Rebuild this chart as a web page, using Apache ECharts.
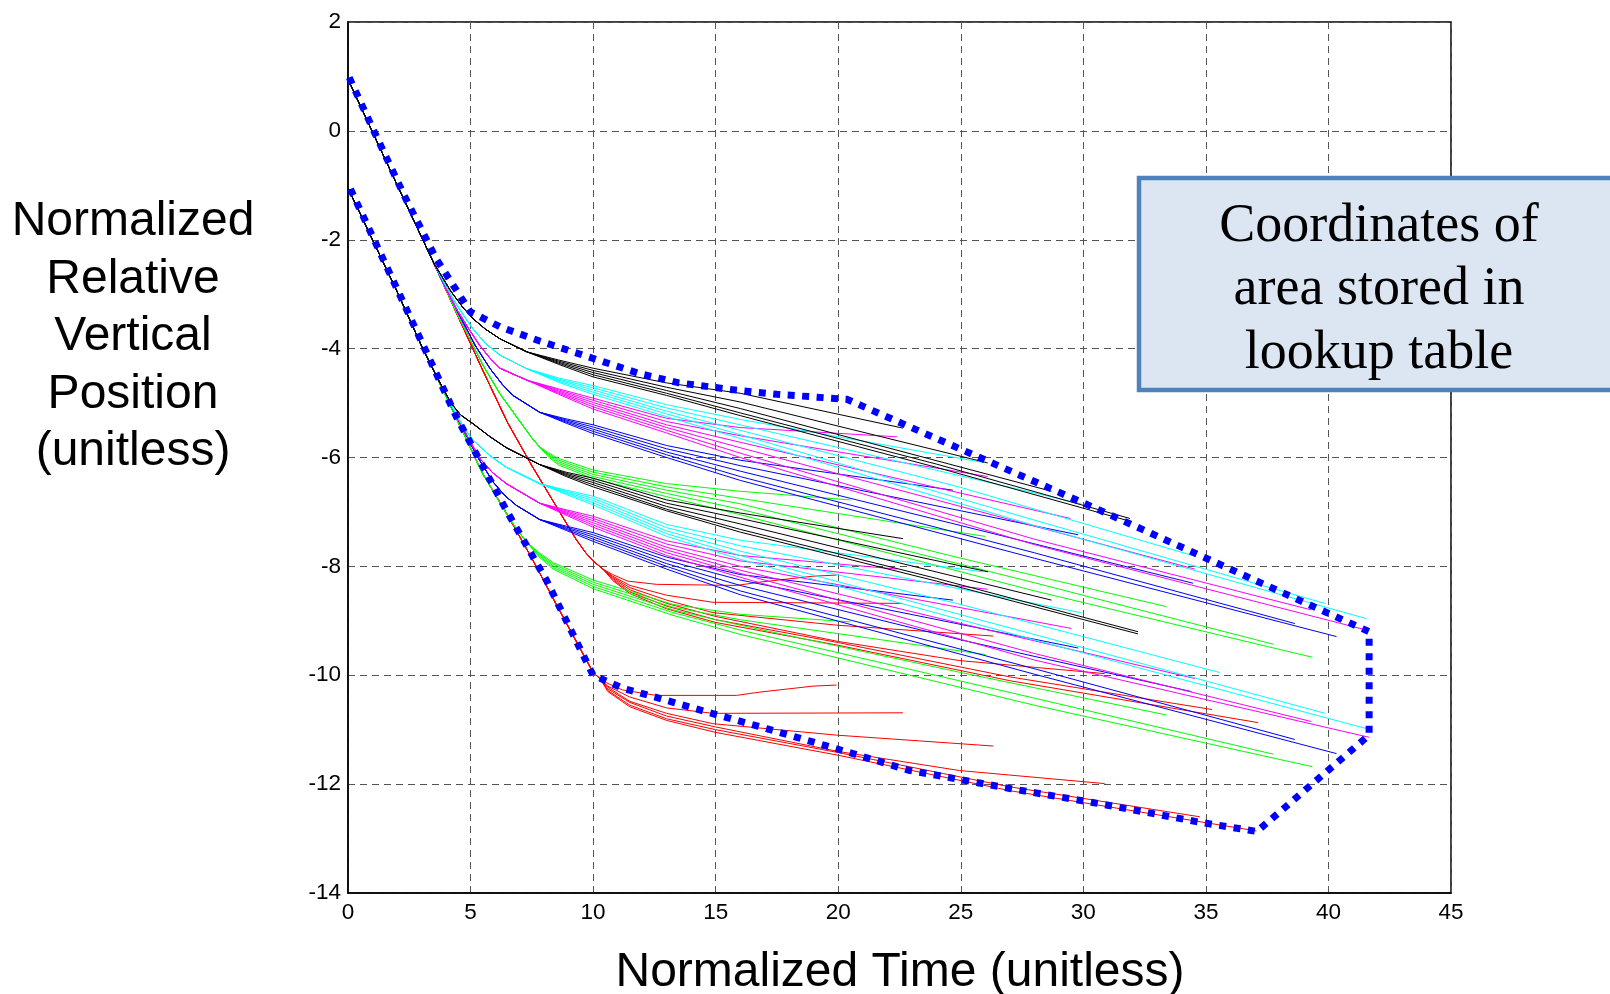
<!DOCTYPE html>
<html><head><meta charset="utf-8">
<script src="https://cdn.jsdelivr.net/npm/echarts@6/dist/echarts.min.js"></script>
<style>html,body{margin:0;padding:0;background:#fff}#c{width:1610px;height:994px}</style>
</head><body><div id="c"></div>
<script>
// ---------- axes ----------
const xAxisRange = [0, 45, 5];      // min, max, interval
const yAxisRange = [-14, 2, 2];
const xTitle = 'Normalized Time (unitless)';
const yTitle = 'Normalized\nRelative\nVertical\nPosition\n(unitless)';
const boxText = 'Coordinates of\narea stored in\nlookup table';

// ---------- shared descent (trunks) ----------
const trunkUpper = [[0,0.95],[1,-0.02],[2,-0.99],[3,-1.95],[3.5,-2.43]];
const trunkLower = [[0,-1.05],[1,-2.0],[2,-2.95],[3,-3.95],[3.6,-4.5]];

// ---------- upper family ----------
const kneeUpperBlack = [[4.2,-2.95],[4.7,-3.25],[5.1,-3.45],[5.6,-3.64],[6.2,-3.82],[7.3,-4.06]];
const tailsUpperBlack = [
  [[8.6,-4.21],[10,-4.36],[13,-4.63],[16,-4.82],[22.64,-5.46]],
  [[8.6,-4.23],[10,-4.4],[13,-4.71],[16,-4.98],[26.1,-6.1]],
  [[8.6,-4.25],[10,-4.44],[13,-4.77],[16,-5.1],[28.7,-6.62]],
  [[8.6,-4.27],[10,-4.48],[13,-4.82],[16,-5.18],[24,-6.12],[31.9,-7.12]],
  [[8.6,-4.29],[10,-4.52],[13,-4.86],[16,-5.23],[24,-6.18],[31.9,-7.17]]
];
const kneeUpperCyan = [[4.3,-3.1],[4.7,-3.38],[5.1,-3.64],[5.6,-3.9],[6.2,-4.12],[7.3,-4.37]];
const tailsUpperCyan = [
  [[8.6,-4.54],[10,-4.68],[13,-5.03],[16,-5.3],[25.9,-6.09]],
  [[8.6,-4.56],[10,-4.72],[13,-5.09],[16,-5.4],[29.9,-6.85]],
  [[8.6,-4.58],[10,-4.76],[13,-5.15],[16,-5.5],[25,-6.55],[34.6,-7.82]],
  [[8.6,-4.6],[10,-4.8],[13,-5.2],[16,-5.58],[28,-7.15],[39.85,-8.68]],
  [[8.6,-4.62],[10,-4.84],[13,-5.25],[16,-5.65],[28,-7.25],[41.55,-8.96]]
];
const kneeUpperMagenta = [[4.4,-3.25],[4.9,-3.62],[5.37,-3.94],[5.8,-4.18],[6.2,-4.36],[7.3,-4.58]];
const tailsUpperMagenta = [
  [[8.6,-4.74],[10,-4.91],[13,-5.28],[16,-5.45],[22.4,-5.62]],
  [[8.6,-4.76],[10,-4.95],[13,-5.34],[16,-5.6],[26.1,-6.35]],
  [[8.6,-4.78],[10,-4.99],[13,-5.4],[16,-5.72],[29.47,-7.12]],
  [[8.6,-4.8],[10,-5.03],[13,-5.45],[16,-5.82],[25,-6.9],[34.55,-8.05]],
  [[8.6,-4.82],[10,-5.07],[13,-5.5],[16,-5.92],[28,-7.5],[39.3,-8.8]],
  [[8.6,-4.84],[10,-5.11],[13,-5.55],[16,-6.0],[28,-7.6],[41.55,-9.17]]
];
const kneeUpperBlue = [[4.5,-3.35],[5.2,-3.95],[5.8,-4.37],[6.3,-4.66],[6.73,-4.86],[7.82,-5.17]];
const tailsUpperBlue = [
  [[8.9,-5.29],[10,-5.4],[13,-5.78],[16,-6.05],[24.68,-6.6]],
  [[8.9,-5.31],[10,-5.44],[13,-5.84],[16,-6.15],[29.79,-7.42]],
  [[8.9,-5.33],[10,-5.48],[13,-5.9],[16,-6.25],[25,-7.25],[34.48,-8.31]],
  [[8.9,-5.35],[10,-5.52],[13,-5.95],[16,-6.35],[28,-7.75],[38.63,-9.05]],
  [[8.9,-5.37],[10,-5.56],[13,-6.0],[16,-6.42],[28,-7.85],[40.33,-9.29]]
];
const kneeUpperGreen = [[4.5,-3.4],[5.5,-4.3],[6.2,-4.83],[7.0,-5.33],[7.5,-5.64],[7.8,-5.8]];
const tailsUpperGreen = [
  [[8.2,-5.92],[8.6,-6.02],[10,-6.23],[13,-6.48],[16,-6.62],[20.5,-6.78]],
  [[8.2,-5.94],[8.6,-6.05],[10,-6.27],[13,-6.54],[16,-6.75],[26,-7.45]],
  [[8.2,-5.96],[8.6,-6.08],[10,-6.31],[13,-6.6],[16,-6.85],[25,-7.85],[33.39,-8.74]],
  [[8.2,-5.98],[8.6,-6.11],[10,-6.35],[13,-6.66],[16,-6.95],[28,-8.3],[37.75,-9.43]],
  [[8.2,-6.0],[8.6,-6.14],[10,-6.39],[13,-6.72],[16,-7.05],[28,-8.45],[39.35,-9.67]]
];
const kneeUpperRed = [[4.5,-3.42],[5.5,-4.4],[6.5,-5.35],[7.5,-6.15],[8.5,-6.9],[9.3,-7.5],[9.7,-7.75],[10,-7.9],[10.4,-8.05]];
const tailsUpperRed = [
  [[10.8,-8.15],[11.4,-8.27],[12.58,-8.33],[15.85,-8.35],[16.79,-8.29],[18.97,-8.18],[19.93,-8.16]],
  [[10.8,-8.18],[11.5,-8.35],[13,-8.53],[14.89,-8.66],[22.64,-8.68]],
  [[10.8,-8.2],[11.5,-8.39],[13,-8.62],[14.89,-8.85],[19.93,-9.08],[26.32,-9.28]],
  [[10.8,-8.22],[11.5,-8.43],[13,-8.68],[15,-8.92],[20,-9.38],[24.94,-9.73],[30.87,-9.97]],
  [[10.8,-8.24],[11.5,-8.47],[13,-8.73],[15,-8.98],[20,-9.4],[27,-10.03],[35.25,-10.63]],
  [[10.8,-8.26],[11.5,-8.5],[13,-8.78],[15,-9.03],[20,-9.45],[27,-10.1],[37.13,-10.87]]
];

// ---------- lower family ----------
const kneeLowerBlack = [[4.2,-5.0],[4.6,-5.22],[5.1,-5.38],[5.8,-5.62],[6.46,-5.82],[7.82,-6.13]];
const tailsLowerBlack = [
  [[8.9,-6.27],[10,-6.38],[13,-6.78],[16,-7.02],[22.64,-7.49]],
  [[8.9,-6.29],[10,-6.42],[13,-6.84],[16,-7.12],[26.11,-8.1]],
  [[8.9,-6.31],[10,-6.46],[13,-6.9],[16,-7.22],[28.7,-8.62]],
  [[8.9,-6.33],[10,-6.5],[13,-6.95],[16,-7.32],[24,-8.22],[32.23,-9.2]],
  [[8.9,-6.35],[10,-6.54],[13,-6.98],[16,-7.37],[24,-8.27],[32.23,-9.24]]
];
const kneeLowerCyan = [[4.4,-5.2],[4.75,-5.47],[5.1,-5.68],[5.8,-5.97],[6.46,-6.18],[7.82,-6.48]];
const tailsLowerCyan = [
  [[8.9,-6.6],[10,-6.71],[13,-7.23],[16,-7.52],[25.9,-8.1]],
  [[8.9,-6.62],[10,-6.75],[13,-7.29],[16,-7.62],[29.9,-8.85]],
  [[8.9,-6.64],[10,-6.79],[13,-7.35],[16,-7.72],[25,-8.7],[35.56,-9.95]],
  [[8.9,-6.66],[10,-6.83],[13,-7.4],[16,-7.8],[28,-9.25],[39.86,-10.7]],
  [[8.9,-6.68],[10,-6.87],[13,-7.45],[16,-7.87],[28,-9.35],[41.55,-10.98]]
];
const kneeLowerMagenta = [[4.5,-5.3],[5.0,-5.72],[5.4,-6.03],[5.9,-6.28],[6.46,-6.48],[7.82,-6.84]];
const tailsLowerMagenta = [
  [[8.9,-6.96],[10,-7.08],[13,-7.53],[16,-7.8],[22.4,-8.05]],
  [[8.9,-6.98],[10,-7.12],[13,-7.59],[16,-7.9],[26.1,-8.42]],
  [[8.9,-7.0],[10,-7.16],[13,-7.65],[16,-8.0],[29.51,-9.14]],
  [[8.9,-7.02],[10,-7.2],[13,-7.7],[16,-8.07],[25,-9.05],[34.55,-10.06]],
  [[8.9,-7.04],[10,-7.24],[13,-7.75],[16,-8.13],[28,-9.6],[39.3,-10.85]],
  [[8.9,-7.06],[10,-7.28],[13,-7.8],[16,-8.2],[28,-9.72],[41.66,-11.14]]
];
const kneeLowerBlue = [[4.6,-5.4],[5.3,-6.0],[5.92,-6.45],[6.4,-6.7],[6.87,-6.88],[7.82,-7.14]];
const tailsLowerBlue = [
  [[8.9,-7.26],[10,-7.38],[13,-7.83],[16,-8.15],[24.68,-8.62]],
  [[8.9,-7.28],[10,-7.42],[13,-7.89],[16,-8.25],[29.79,-9.5]],
  [[8.9,-7.3],[10,-7.46],[13,-7.95],[16,-8.35],[25,-9.35],[34.41,-10.3]],
  [[8.9,-7.32],[10,-7.5],[13,-8.0],[16,-8.45],[28,-9.88],[38.63,-11.18]],
  [[8.9,-7.34],[10,-7.54],[13,-8.05],[16,-8.52],[28,-9.98],[40.33,-11.44]]
];
const kneeLowerGreen = [[4.6,-5.45],[5.5,-6.3],[6.46,-7.03],[6.9,-7.33],[7.28,-7.55]];
const tailsLowerGreen = [
  [[7.8,-7.75],[8.37,-7.93],[10,-8.25],[13.26,-8.7],[16,-8.88],[20.5,-9.02]],
  [[7.8,-7.77],[8.37,-7.96],[10,-8.29],[13.26,-8.75],[16,-8.98],[26,-9.62]],
  [[7.8,-7.79],[8.37,-7.99],[10,-8.33],[13.26,-8.8],[16,-9.08],[25,-9.95],[33.39,-10.73]],
  [[7.8,-7.81],[8.37,-8.02],[10,-8.37],[13.26,-8.85],[16,-9.17],[28,-10.42],[37.75,-11.45]],
  [[7.8,-7.83],[8.37,-8.05],[10,-8.41],[13.26,-8.9],[16,-9.25],[28,-10.55],[39.35,-11.68]]
];
const kneeLowerRed = [[4.6,-5.45],[5.5,-6.3],[6.5,-7.05],[7.5,-7.85],[8.5,-8.7],[9.4,-9.45],[10,-9.95],[10.3,-10.07]];
const tailsLowerRed = [
  [[10.6,-10.15],[11.2,-10.27],[12.58,-10.37],[15.85,-10.37],[16.79,-10.31],[18.97,-10.2],[19.93,-10.18]],
  [[10.6,-10.2],[11.5,-10.4],[13,-10.6],[14.89,-10.7],[22.64,-10.69]],
  [[10.6,-10.22],[11.5,-10.48],[13,-10.7],[14.89,-10.89],[19.93,-11.1],[26.32,-11.3]],
  [[10.6,-10.25],[11.5,-10.5],[13,-10.75],[15,-10.95],[20,-11.4],[24.94,-11.75],[30.87,-11.99]],
  [[10.6,-10.28],[11.5,-10.55],[13,-10.8],[15,-11.0],[20,-11.42],[27,-12.05],[34.75,-12.6]],
  [[10.6,-10.3],[11.5,-10.58],[13,-10.83],[15,-11.05],[20,-11.47],[27,-12.12],[37.06,-12.86]]
];

// ---------- lookup-table area boundary ----------
const boundaryUpper = [[0.05,0.98],[1,0.05],[2.35,-1.24],[3.6,-2.35],[4.98,-3.32],[6.2,-3.6],[7.82,-3.86],[9.8,-4.15],[11.9,-4.46],[13.5,-4.63],[15.6,-4.75],[17.5,-4.84],[20.35,-4.93],[30.33,-6.9],[41.66,-9.2]];
const boundaryRight = [[41.66,-11.1],[37.08,-12.87]];
const boundaryLower = [[34.75,-12.7],[30.67,-12.36],[27,-12.08],[22.92,-11.75],[19.93,-11.35],[17.07,-10.98],[14.76,-10.69],[12.99,-10.46],[11.22,-10.24],[10,-10.0],[8.09,-8.25],[6.46,-6.97],[4.42,-5.25],[2.11,-3.01],[0.05,-1.02]];

// ---------- build (black drawn last so it shows on the shared descent) ----------
const bundles = [
  [trunkUpper, kneeUpperRed, tailsUpperRed, '#ff0000'],
  [trunkUpper, kneeUpperGreen, tailsUpperGreen, '#00ff00'],
  [trunkUpper, kneeUpperBlue, tailsUpperBlue, '#0000ff'],
  [trunkUpper, kneeUpperMagenta, tailsUpperMagenta, '#ff00ff'],
  [trunkUpper, kneeUpperCyan, tailsUpperCyan, '#00ffff'],
  [trunkUpper, kneeUpperBlack, tailsUpperBlack, '#000000'],
  [trunkLower, kneeLowerRed, tailsLowerRed, '#ff0000'],
  [trunkLower, kneeLowerGreen, tailsLowerGreen, '#00ff00'],
  [trunkLower, kneeLowerBlue, tailsLowerBlue, '#0000ff'],
  [trunkLower, kneeLowerMagenta, tailsLowerMagenta, '#ff00ff'],
  [trunkLower, kneeLowerCyan, tailsLowerCyan, '#00ffff'],
  [trunkLower, kneeLowerBlack, tailsLowerBlack, '#000000']
];
const series = [];
bundles.forEach(([trunk, knee, tails, color]) => {
  tails.forEach(t => {
    series.push({
      type: 'line', data: trunk.concat(knee, t), showSymbol: false, symbol: 'none',
      lineStyle: { color: color, width: 1 }, silent: true, z: 2
    });
  });
});
series.push({
  type: 'line', data: boundaryUpper.concat(boundaryRight, boundaryLower),
  showSymbol: false, symbol: 'none', silent: true, z: 5,
  lineStyle: { color: '#0000ff', width: 7, type: [7, 7.5], cap: 'butt', join: 'miter' }
});

const font = "'Liberation Sans', Arial, sans-serif";
const chart = echarts.init(document.getElementById('c'), null, { renderer: 'canvas' });
chart.setOption({
  animation: false,
  backgroundColor: '#ffffff',
  grid: { left: 348, top: 22, width: 1103, height: 871, show: true, borderColor: '#000', borderWidth: 1.5, backgroundColor: 'transparent' },
  xAxis: {
    type: 'value', min: xAxisRange[0], max: xAxisRange[1], interval: xAxisRange[2],
    axisLine: { show: true, onZero: false, lineStyle: { color: '#000', width: 1.5 } },
    axisTick: { show: false },
    axisLabel: { color: '#000', fontSize: 22.5, fontFamily: font, margin: 8 },
    splitLine: { show: true, lineStyle: { color: '#555', width: 1, type: [7, 5] } }
  },
  yAxis: {
    type: 'value', min: yAxisRange[0], max: yAxisRange[1], interval: yAxisRange[2],
    axisLine: { show: true, onZero: false, lineStyle: { color: '#000', width: 1.5 } },
    axisTick: { show: false },
    axisLabel: { color: '#000', fontSize: 22.5, fontFamily: font, margin: 7 },
    splitLine: { show: true, lineStyle: { color: '#555', width: 1, type: [7, 5] } }
  },
  series: series,
  graphic: [
    { type: 'text', x: 133, y: 337, z: 10,
      style: { text: yTitle, font: "48px " + font, fill: '#000', textAlign: 'center', textVerticalAlign: 'middle', align: 'center', verticalAlign: 'middle', lineHeight: 57.5 } },
    { type: 'text', x: 900, y: 973, z: 10,
      style: { text: xTitle, font: "48px " + font, fill: '#000', textAlign: 'center', textVerticalAlign: 'middle', align: 'center', verticalAlign: 'middle' } },
    { type: 'rect', x: 0, y: 0, z: 20,
      shape: { x: 1139, y: 178, width: 482, height: 212 },
      style: { fill: '#dce6f2', stroke: '#4f81bd', lineWidth: 4.5 } },
    { type: 'text', x: 1379, y: 290, z: 21,
      style: { text: boxText, font: "54px 'Liberation Serif', 'Times New Roman', serif", fill: '#000', textAlign: 'center', textVerticalAlign: 'middle', align: 'center', verticalAlign: 'middle', lineHeight: 63.5 } }
  ]
});
</script>
</body></html>
